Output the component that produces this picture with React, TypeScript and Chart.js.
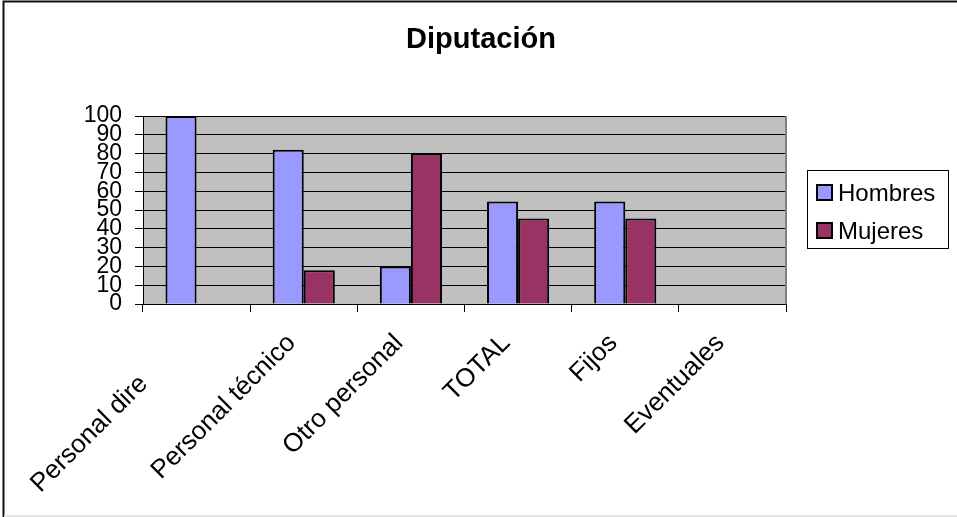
import React, { useEffect, useRef } from "react";
import { Chart, registerables } from "chart.js";

Chart.register(...registerables);

const TITLE = "Diputación";
// the first category label is cut off in the original; trailing spaces keep its offset
const CATEGORIES = ["Personal dire        ", "Personal técnico", "Otro personal", "TOTAL", "Fijos", "Eventuales"];
const SERIES_NAMES = ["Hombres", "Mujeres"];
const HOMBRES = [100, 82, 20, 54.5, 54.5, 0];
const MUJERES = [0, 18, 80, 45.5, 45.5, 0];
const SERIES_COLORS = ["#9999FF", "#993366"];
const Y_MIN = 0;
const Y_MAX = 100;
const Y_STEP = 10;

const FONT = "Arial, 'Liberation Sans', sans-serif";

const decorPlugin = {
  id: "decor",
  beforeDraw(chart: any) {
    const { ctx, chartArea } = chart;
    ctx.save();
    ctx.fillStyle = "#ffffff";
    ctx.fillRect(0, 0, chart.width, chart.height);
    ctx.fillStyle = "#C0C0C0";
    ctx.fillRect(chartArea.left, chartArea.top, chartArea.right - chartArea.left, chartArea.bottom - chartArea.top);
    ctx.restore();
  },
  afterDraw(chart: any) {
    const { ctx, chartArea } = chart;
    ctx.save();
    ctx.strokeStyle = "#808080";
    ctx.lineWidth = 2;
    ctx.beginPath();
    ctx.moveTo(chartArea.right, chartArea.top);
    ctx.lineTo(chartArea.right, chartArea.bottom);
    ctx.stroke();
    // outer frame
    ctx.lineWidth = 2;
    ctx.strokeStyle = "#111111";
    ctx.beginPath();
    ctx.moveTo(3.5, 517);
    ctx.lineTo(3.5, 1.5);
    ctx.lineTo(957, 1.5);
    ctx.stroke();
    ctx.strokeStyle = "#E4E4E4";
    ctx.beginPath();
    ctx.moveTo(4, 516);
    ctx.lineTo(957, 516);
    ctx.stroke();
    // title
    ctx.fillStyle = "#000000";
    ctx.font = `bold 29px ${FONT}`;
    ctx.textAlign = "center";
    ctx.textBaseline = "alphabetic";
    ctx.fillText(TITLE, 481, 48);
    // legend
    ctx.lineWidth = 1;
    ctx.strokeStyle = "#000000";
    ctx.strokeRect(807.5, 170.5, 141, 78);
    ctx.font = `24px ${FONT}`;
    ctx.textAlign = "left";
    ctx.textBaseline = "middle";
    chart.data.datasets.forEach((ds: any, i: number) => {
      const cy = 193 + i * 38;
      ctx.fillStyle = ds.backgroundColor;
      ctx.fillRect(817, cy - 8, 15, 15);
      ctx.lineWidth = 2;
      ctx.strokeStyle = "#000000";
      ctx.strokeRect(817, cy - 8, 15, 15);
      ctx.fillStyle = "#000000";
      ctx.fillText(ds.label, 838, cy + 1);
    });
    ctx.restore();
  },
};

export default function App() {
  const canvasRef = useRef<HTMLCanvasElement | null>(null);

  useEffect(() => {
    document.body.style.margin = "0";
    const canvas = canvasRef.current;
    if (!canvas) return;
    const chart = new Chart(canvas, {
      type: "bar",
      data: {
        labels: CATEGORIES,
        datasets: [
          {
            label: SERIES_NAMES[0],
            data: HOMBRES,
            backgroundColor: SERIES_COLORS[0],
            borderColor: "#000000",
            borderWidth: 2,
            categoryPercentage: 0.58,
            barPercentage: 1,
          },
          {
            label: SERIES_NAMES[1],
            data: MUJERES,
            backgroundColor: SERIES_COLORS[1],
            borderColor: "#000000",
            borderWidth: 2,
            categoryPercentage: 0.58,
            barPercentage: 1,
          },
        ],
      },
      options: {
        animation: false,
        responsive: false,
        devicePixelRatio: 1,
        layout: { padding: { top: 116, right: 171, left: 0, bottom: 0 } },
        plugins: {
          legend: { display: false },
          title: { display: false },
          tooltip: { enabled: false },
        },
        scales: {
          x: {
            offset: true,
            afterFit: (scale: any) => {
              scale.height = 213;
            },
            grid: {
              drawOnChartArea: false,
              offset: true,
              color: "#000000",
              tickLength: 8,
              lineWidth: 1,
            },
            border: { color: "#000000", width: 1 },
            ticks: {
              autoSkip: false,
              maxRotation: 45,
              minRotation: 45,
              color: "#000000",
              font: { family: FONT, size: 26 },
              padding: 16,
              labelOffset: -12,
            },
          },
          y: {
            min: Y_MIN,
            max: Y_MAX,
            afterFit: (scale: any) => {
              scale.width = 143;
            },
            grid: {
              color: "#000000",
              tickLength: 8,
              lineWidth: 1,
            },
            border: { color: "#000000", width: 1 },
            ticks: {
              stepSize: Y_STEP,
              autoSkip: false,
              color: "#000000",
              font: { family: FONT, size: 23 },
              padding: 13,
            },
          },
        },
      },
      plugins: [decorPlugin],
    });
    return () => chart.destroy();
  }, []);

  return (
    <div style={{ position: "absolute", left: 0, top: 0, width: 957, height: 517 }}>
      <canvas ref={canvasRef} width={957} height={517} style={{ display: "block" }} />
    </div>
  );
}
